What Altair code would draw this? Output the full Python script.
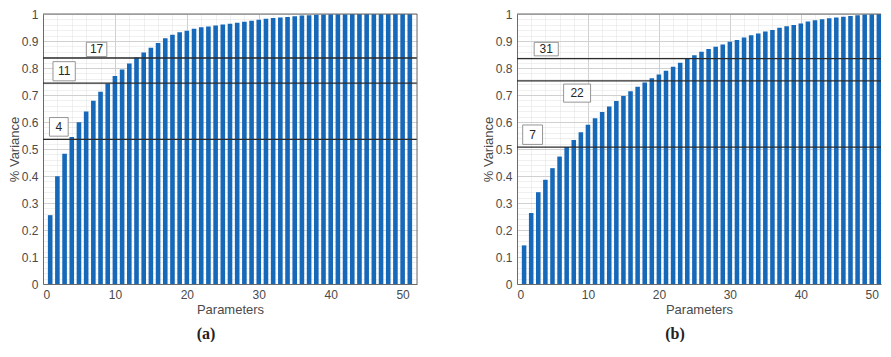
import altair as alt
import pandas as pd

params = list(range(1, 52))

var_a = [0.255, 0.399, 0.482, 0.544, 0.599, 0.639, 0.679, 0.712, 0.743, 0.770,
         0.794, 0.817, 0.839, 0.857, 0.875, 0.893, 0.910, 0.923, 0.932, 0.938,
         0.945, 0.951, 0.954, 0.957, 0.961, 0.964, 0.968, 0.971, 0.975, 0.979,
         0.982, 0.985, 0.987, 0.989, 0.992, 0.994, 0.995, 0.997, 0.998, 0.999,
         0.999, 0.999, 1.0, 1.0, 1.0, 1.0, 1.0, 1.0, 1.0, 1.0, 1.0]

var_b = [0.143, 0.263, 0.340, 0.386, 0.429, 0.472, 0.507, 0.533, 0.562, 0.590,
         0.614, 0.637, 0.657, 0.678, 0.696, 0.714, 0.731, 0.746, 0.762, 0.776,
         0.790, 0.805, 0.819, 0.834, 0.847, 0.860, 0.870, 0.879, 0.887, 0.897,
         0.904, 0.913, 0.921, 0.928, 0.935, 0.941, 0.949, 0.955, 0.959, 0.965,
         0.972, 0.977, 0.981, 0.984, 0.987, 0.990, 0.993, 0.995, 0.998, 0.999,
         1.0]

lines_a = [0.837, 0.744, 0.536]
labels_a = ["17", "11", "4"]
label_x_a = [7.45, 2.94, 2.2]
label_y_a = [0.869, 0.788, 0.582]
box_w_a = [2.85, 3.1, 2.6]
box_h_a = [0.053, 0.071, 0.069]

lines_b = [0.835, 0.752, 0.507]
labels_b = ["31", "22", "7"]
label_x_b = [4.12, 8.47, 2.2]
label_y_b = [0.870, 0.707, 0.553]
box_w_b = [3.4, 3.8, 2.8]
box_h_b = [0.050, 0.067, 0.072]

BLUE = "#1668b8"
AX = "#6b6b6b"
TXT = "#4a4a4a"
FONT = "Liberation Sans"


def make_panel(vals, lines, labels, lx, ly, bw, bh, xmax, width, caption, right_border):
    xvals = list(range(0, int(xmax) + 1, 2))
    yvals = [round(i * 0.02, 2) for i in range(51)]
    xaxis = alt.Axis(
        values=xvals, title="Parameters", ticks=False, tickSize=0, labelOverlap=False,
        labelExpr="datum.value % 10 === 0 ? format(datum.value, 'd') : ''",
        gridColor={"condition": {"test": "datum.value % 10 === 0", "value": "#d0d0d0"}, "value": "#e0e0e0"},
        gridDash={"condition": {"test": "datum.value % 10 === 0", "value": []}, "value": [1, 1]},
        labelPadding=5, titlePadding=3,
    )
    ytest = "abs(datum.value*10 - round(datum.value*10)) < 0.001"
    yaxis = alt.Axis(
        values=yvals, title="% Variance", ticks=False, tickSize=0, labelOverlap=False,
        labelExpr=f"{ytest} ? format(datum.value, '.1~f') : ''",
        gridColor={"condition": {"test": ytest, "value": "#d0d0d0"}, "value": "#e0e0e0"},
        gridDash={"condition": {"test": ytest, "value": []}, "value": [1, 1]},
        labelPadding=5, titlePadding=0,
    )
    xs = alt.Scale(domain=[0, xmax], nice=False, zero=False)
    ys = alt.Scale(domain=[0, 1], nice=False, zero=True)

    df = pd.DataFrame({"p": params, "v": vals, "z": [0.0] * len(params)})
    bars = alt.Chart(df).transform_calculate(
        x0="datum.p - 0.32", x1="datum.p + 0.32"
    ).mark_rect(color=BLUE, clip=True).encode(
        x=alt.X("x0:Q", scale=xs, axis=xaxis),
        x2="x1:Q",
        y=alt.Y("v:Q", scale=ys, axis=yaxis),
        y2="z:Q",
    )

    dl = pd.DataFrame({"y": lines})
    rules = alt.Chart(dl).mark_rule(color="#2b2b2b", strokeWidth=1.3).encode(
        y=alt.Y("y:Q", scale=ys, axis=yaxis)
    )

    dlab = pd.DataFrame({"t": labels, "lx": lx, "ly": ly, "bw": bw, "bh": bh})
    boxes = alt.Chart(dlab).transform_calculate(
        bx0="datum.lx - datum.bw/2", bx1="datum.lx + datum.bw/2",
        by0="datum.ly - datum.bh/2", by1="datum.ly + datum.bh/2",
    ).mark_rect(fill="white", stroke="#8a8a8a", strokeWidth=0.9).encode(
        x=alt.X("bx0:Q", scale=xs, axis=xaxis), x2="bx1:Q",
        y=alt.Y("by0:Q", scale=ys, axis=yaxis), y2="by1:Q",
    )
    texts = alt.Chart(dlab).mark_text(fontSize=12, color="#262626", font=FONT).encode(
        x=alt.X("lx:Q", scale=xs, axis=xaxis),
        y=alt.Y("ly:Q", scale=ys, axis=yaxis),
        text="t:N",
    )

    top = alt.Chart(pd.DataFrame({"y": [1.0]})).mark_rule(color=AX, strokeWidth=1).encode(
        y=alt.Y("y:Q", scale=ys, axis=yaxis)
    )
    layers = [bars, rules, boxes, texts, top]
    if right_border:
        rb = alt.Chart(pd.DataFrame({"x": [xmax]})).mark_rule(color=AX, strokeWidth=1).encode(
            x=alt.X("x:Q", scale=xs, axis=xaxis)
        )
        layers.append(rb)

    return alt.layer(*layers).properties(
        width=width, height=270,
        title=alt.TitleParams(caption, orient="bottom", anchor="middle", dx=-24, offset=10,
                              font="Liberation Serif", fontSize=16, fontWeight="bold",
                              color="#222222"),
    )


left = make_panel(var_a, lines_a, labels_a, label_x_a, label_y_a, box_w_a, box_h_a,
                  52, 374, "(a)", True)
right = make_panel(var_b, lines_b, labels_b, label_x_b, label_y_b, box_w_b, box_h_b,
                   51.3, 364, "(b)", False)

chart = alt.hconcat(left, right, spacing=64).configure(
    padding={"left": 0, "top": 0, "right": 0, "bottom": 0}, background="white"
).configure_view(strokeWidth=0).configure_axis(
    domainColor=AX, labelColor=TXT, titleColor=TXT, labelFont=FONT, titleFont=FONT,
    labelFontSize=12, titleFontSize=13, titleFontWeight="normal",
)

chart.save("out.html", embed_options={"renderer": "svg", "actions": False})
